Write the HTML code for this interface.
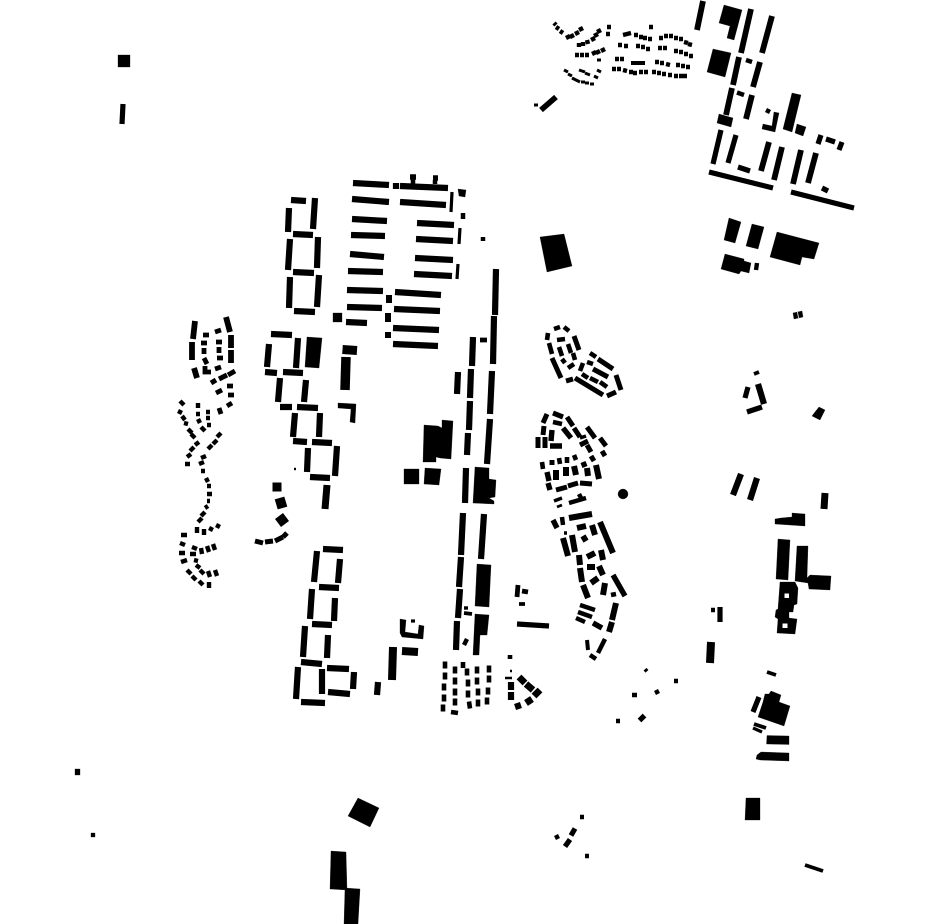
<!DOCTYPE html>
<html><head><meta charset="utf-8"><title>Figure-ground plan</title>
<style>html,body{margin:0;padding:0;background:#fff}svg{display:block}</style></head>
<body>
<svg width="930" height="924" viewBox="0 0 930 924" xmlns="http://www.w3.org/2000/svg">
<rect width="930" height="924" fill="#fff"/>
<g fill="none" stroke="#000">
<!-- top-right bars -->
<path stroke-width="5.8" d="M703 1L697 30M751 9L741 53M772 16L762 53M739 57L733 85M760 62L753 87M732 88L726 115M752 95L746 119M769 142L761 171M782 147L774 180M816 153L808 183M801 150L793 184"/>
<path stroke-width="5.2" d="M721 130L713 164M736 135L728 163M738 167L750 171M709 172L773 188M791 192L854 208M826 139L835 142M842 142L839 150M821 135L818 144M822 188L828 191"/>
<path stroke-width="4.5" d="M746 60L752 62M737 92.5L744 95M766 110L770 112"/>
<!-- village top -->
<path stroke-width="4.4" d="M554 23L556 25M556 27L559 29M560 31L563 33M566 38L570 36M570 37L574 35M575 34L579 32M579 30L583 28M579 43L579 47M583 42L583 46M587 40L588 44M592 37L594 41M595 33L597 37M598 29L600 33M575 55H579M580 55H584M585 55H589M592 54L596 52M596 53L600 51M601 51L605 49M607 27H611M606 34H610M649 27H653M623 35L627 34M627 34L631 33M634 35L638 35M639 37L643 37M643 38L647 38M648 39L652 39M618 45H622M624 46H628M636 46H640M641 47H645M646 49H650M659 38H663M664 36H668M669 36H673M674 38H678M679 39H683M684 42L688 43M688 44L692 45M658 48H662M663 48H667M674 51L678 51M679 52L683 52M684 54L688 54M689 56L693 56M615 59H619M620 59H624M655 62L659 62M660 63L664 63M666 64L670 65M676 65L680 65M681 66L685 66M686 67L690 67M612 69H616M617 69H621M623 70L627 71M629 72L633 72M633 73L637 73M639 72H643M644 72H648M652 72L656 72M657 73L661 73M662 74L666 74M668 75L672 75M674 76H678M679 76H683M683 76H687"/>
<path stroke-width="3" d="M597 60H601M564 70L568 72M568 74L572 76M572 78L576 80M576 80L580 82M581 82H585M585 83H589M590 84H594M579 70L585 72M585 73L590 75M597 70L601 72M594 76L598 78M534 105H538"/>
<path stroke-width="4" d="M631 63H645"/>
<path stroke-width="5.6" d="M556 97L541 110"/>
<!-- upper slabs -->
<path stroke-width="6.2" d="M353 183L389 185M352 199L389 202M352 219L387 221M351 235L385 236M350 254L384 257M348 271L383 272M347 290L383 291M347 307L382 308M346 322L367 323M400 186L448 188M400 202L446 205M417 223L454 225M416 239L453 241M415 258L453 260M414 274L452 276M395 292L441 295M394 309L440 311M393 328L439 330M393 344L438 346M396 183L396 189"/>
<path stroke-width="3.2" d="M452 192L451 212M460 228L459 244M458 264L457 279"/>
<path stroke-width="4.5" d="M463 213V219M483 237V241M413 179V184M435 180V184"/>
<path stroke-width="6" d="M389 295V303M388 313V322M388 332V338"/>
<path stroke-width="5.5" d="M410 177H416M433 178H438"/>
<path stroke-width="6.2" d="M291 200L306 201M289 208L288 232M315 198L313 229M293 234L313 235M290 239L288 270M318 237L317 268M293 272L314 273M290 277L289 308M319 275L317 307M294 311L315 312M496 269L495 315"/>
<!-- middle-left rings -->
<path stroke-width="5.8" d="M195 321L193 339M192 342V360M226 317L230 332M231 335V348M231 350V363M194 368L197 378"/>
<path stroke-width="6.2" d="M271 334L292 335M269 344L267 367M298 338L296 368M265 372L277 373M283 372L303 373M280 378L278 402M306 380L304 402M280 407L292 407M297 407L318 408M295 413L293 437M320 413L319 437M293 441L307 442M312 442L332 443M308 448L307 472M337 446L335 476M310 477L330 478"/>
<path stroke-width="7" d="M327 485L325 509"/>
<path stroke-width="9" d="M342.5 349.5L357 350.5"/>
<path stroke-width="9.5" d="M346 357L345 390"/>
<path stroke-width="9" d="M277 482.5V491.5"/>
<path stroke-width="10" d="M279.5 498L282.5 508M279 516L285 524"/>
<path stroke-width="5" d="M255 541L263 543M265 542L273 541M275 541L283 537M283 537L287 533M228 375L235 371M219 379L227 375M211 383L216 380"/>
<path stroke-width="4.8" d="M203 335H209M215 332L221 330M201 343H207M216 342H222M204 348V354M219 347V353M204 358L207 364M217 358H223M205 366V372H211M215 369L221 367M227 386H233M228 395H234M216 393L222 390M227 406L232 403M219 408L221 414"/>
<path stroke-width="4.4" d="M180 401L184 405M178 411L182 413M182 416L185 420M184 423L188 424M188 429L192 433M191 434L195 438M195 445L199 442M190 451L194 447M187 457L191 454M185 464H190M198 403V408M196 414H200M197 422L201 420M206 412H210M206 418H210M207 425H211M201 427L205 431M217 437L221 433M213 444L217 440M208 449L212 445M201 458L206 456M199 464L204 462M201 471H205M206 478L208 482M207 486H211M207 494H212M207 501H210M205 508L208 506M201 516L205 512M198 522L202 518M197 527V533M204 529V535M210 531L212 527M217 528L219 524M181 535H187M180 543L185 545M179 553H185M181 562L187 560M187 570L191 574M192 576L196 580M199 581L203 585M209 582V588M192 547L197 549M190 554H196M194 560L198 561M196 565L200 568M200 570L204 574M208 571L210 577M215 570L217 576M201 548L202 554M207 546L209 552M213 544L215 550"/>
<path stroke-width="2.4" d="M294 469H296"/>
<!-- lower ring blocks -->
<path stroke-width="6.2" d="M323 549L343 550M317 551L314 582M340 559L338 583M319 587L339 588M312 589L310 619M335 598L334 621M312 624L332 625M305 626L303 657M328 635L327 658M301 662L322 664M298 667L296 699M322 669V694M327 668L349 669M354 672L353 689M328 692L350 694M301 702L325 703M378 682L377 695"/>
<path stroke-width="8" d="M393 647L392 680M402 651L418 652M711 642L710 663"/>
<path stroke-width="3.2" d="M411 621H415"/>
<!-- central long bars -->
<path stroke-width="6.2" d="M473 337L472 366M494 316L493 364M458 372L457 394M471 369L470 398M492 371L490 414M470 401L469 430M490 419L487 464M468 433L467 455M466 468L465 503M463 513L461 555M484 514L481 559M461 557L459 587M460 589L458 618M457 621L456 650"/>
<path stroke-width="4.8" d="M480 340H487M518 585L517 597M522 591L528 592"/>
<path stroke-width="3.8" d="M464 613L472 614M519 604H525"/>
<path stroke-width="3.4" d="M464 608H468"/>
<path stroke-width="4.4" d="M467 639L464 645"/>
<path stroke-width="5.2" d="M517 624L549 626"/>
<!-- grid -->
<path stroke-width="4.6" d="M445 661.5V668.5M445 672.5V679.5M444 683.5V690.5M444 694.5V701.5M443 704.5V711.5M451 712L458 713M455 666.5V673.5M455 677.5V684.5M455 688.5V695.5M455 698.5V705.5M463 662V668M467 668.5V675.5M468 679.5V686.5M468 690.5V697.5M469 701.5L470 708.5M477 666.5V673.5M477 677.5V684.5M478 688.5V695.5M478 699.5V706.5M489 665.5V672.5M489 675.5V682.5M488 687.5V694.5M487 697.5V704.5M510 655V659"/>
<path stroke-width="2.4" d="M510 671H512M505 678H512"/>
<path stroke-width="6.2" d="M511 682V690M511 692V700M517 703L519 709"/>
<path stroke-width="6.8" d="M526 703L532 699M534 696L540 690M526 684L533 690M519 677L525 683"/>
<!-- east cluster loop -->
<path stroke-width="4.6" d="M554 329L560 327M564 327L569 331M548 333L547 340M549 343L552 354M557 340L565 339M559 347L562 356M568 344L571 353M562 359L565 363M568 368L574 364M573 353L575 360M580 371L583 363M587 362L593 364M590 353L596 357M582 374L588 378M590 378L598 382M600 382L607 387M553 422L562 424M542 462L543 469M559 458L560 464M567 457V463M574 455L576 460"/>
<path stroke-width="5" d="M574 336L579 350M552 358L561 378M566 381L573 379M575 378L603 395M607 396L616 392M621 390L616 375M598 359L613 369M593 369L608 377M547 414L543 423M553 413L563 417M567 417L573 426M544 426L543 435M538 437V448M545 437V448M574 428L580 437M580 445L588 441M587 427L595 438M600 438L606 446M587 445L591 452M602 451L605 456M591 456L594 461M552 460V465M556 490L567 487M568 486L578 483M580 483L592 484"/>
<path stroke-width="5.4" d="M552 430L551 441M550 446L562 446M563 428L571 438M583 462L585 467M547 472L549 481M548 483L550 490M553 520L557 528M593 623L602 628M613 575L625 596"/>
<path stroke-width="3.4" d="M580 438L586 436M554 501L562 498M564 533H567"/>
<path stroke-width="2.8" d="M557 507L562 505"/>
<path stroke-width="4.5" d="M569 503L586 498M578 497L582 495M562 517L563 525M611 595L616 594M580 605L595 610M578 612L592 617M576 618L585 622M605 639L598 653M590 655L596 659"/>
<path stroke-width="4" d="M587 640L588 650"/>
<path stroke-width="6" d="M556 470V480M566 467V476M574 466L576 475M587 468L588 476M596 465L599 479M569 518L592 514M577 528L586 526M592 525L595 535M600 522L613 553M563 538L568 556M572 535L575 552M582 540L587 537M587 557L595 553M601 550L603 560M579 555L580 565M580 568L582 582M587 567H595M599 566L603 575M591 583L598 578M583 585L588 598M605 583L603 595M616 603L612 620M612 622L609 632"/>
<!-- east -->
<path stroke-width="6.2" d="M741 474L733 495M757 478L750 500"/>
<path stroke-width="7" d="M825 493L824 509"/>
<path stroke-width="5.2" d="M720 607V622M759 697L753 712M748 387L745 398M747 412L762 407"/>
<path stroke-width="3.8" d="M767 672L776 675M754 724L766 728M754 374L759 372M805 865L823 871"/>
<path stroke-width="3.2" d="M753 728L762 732"/>
<path stroke-width="4.4" d="M711 610H715M757 263L756 270"/>
<path stroke-width="6.2" d="M758 384L764 404"/>
<!-- misc small -->
<path stroke-width="5.2" d="M123 104L122 124"/>
<path stroke-width="2.8" d="M644.5 671.5L647.5 669"/>
<path stroke-width="4.4" d="M674 681H678M632 695H637M655 693L659 691M616 721H620M580 817H584M555 838L559 836M585 856H589"/>
<path stroke-width="5.2" d="M639.5 720.5L644.5 715.5M571 835.5L575 828.5M565 846.5L570 839.5"/>
</g>
<g fill="#000" stroke="#000" stroke-width="0.3">
<polygon points="724,5 742,10 734,40 727,38 730,26 719,23"/>
<polygon points="713,49 731,53 725,77 707,72"/>
<polygon points="719,114 733,118 731,127 717,123"/>
<polygon points="774,112 779,113 775,132 762,129 763,124 772,126"/>
<polygon points="792,93 801,95 792,132 783,129"/>
<polygon points="797,124 806,127 803,136 795,133"/>
<polygon points="458,189 466,190 465,197 459,196"/>
<rect x="333" y="313" width="9" height="9"/>
<polygon points="540,237 564,234 572,266 547,272"/>
<polygon points="307,337 322,338 319,368 305,367"/>
<polygon points="338,403 356,404 355,423 350,422 351,409 338,408"/>
<polygon points="400,619 406,620 405,632 418,634 419,625 424,626 423,639 402,637 400,633"/>
<polygon points="424,425 438,426 442,428 442,420 453,421 451,459 440,458 436,457 436,462 423,462"/>
<polygon points="404,469 419,469 419,484 404,484"/>
<polygon points="425,468 441,469 439,485 424,484"/>
<polygon points="475,467 489,468 489,479 496,480 495,497 489,498 494,501 494,504 473,503"/>
<polygon points="477,564 491,565 489,607 475,606"/>
<polygon points="475,614 489,615 487,635 480,635 479,655 473,655"/>
<circle cx="623" cy="494" r="5"/>
<polygon points="775,519 781,518 792,517 792,513 805,514 805,526 775,524"/>
<polygon points="778,539 790,540 788,580 776,579"/>
<polygon points="797,546 808,546 807,578 810,575 831,576 830,590 809,589 808,583 795,581"/>
<polygon points="780,582 795,582 798,588 797,604 794,605 793,612 789,612 789,618 797,619 795,634 777,633 778,619 775,617 776,610 778,609"/>
<polygon points="771,691 781,695 779,702 790,706 784,726 758,717 763,702 765,694 769,694"/>
<polygon points="767,735.5 789,736 789,744.5 766.5,744"/>
<polygon points="761,752 789,753 789,761 760,760 756,759 757,755"/>
<polygon points="729,218 741,222 735,243 724,240"/>
<polygon points="752,224 764,227 758,249 746,246"/>
<polygon points="777,232 819,243 814,259 802,257 800,265 770,257"/>
<polygon points="725,254 744,259 744,261 751,263 749,273 741,271 739,274 721,269"/>
<polygon points="793,313 802,311 803,317 794,319"/>
<polygon points="819,407 825,410 820,420 812,416 815,412"/>
<rect x="118" y="55" width="12" height="12"/>
<rect x="75" y="769" width="5" height="6"/>
<rect x="91" y="833" width="4" height="4"/>
<polygon points="358,798 379,808 370,827 348,816"/>
<polygon points="331,851 346,852 347,890 330,889"/>
<polygon points="345,888 360,889 358,924 344,924"/>
<polygon points="746,798 760,798 760,820 745,820"/>
</g>
<rect x="784.5" y="593.5" width="4.5" height="4.5" fill="#fff"/>
<rect x="782.5" y="623.5" width="5" height="4.5" fill="#fff"/>
<path d="M797.5 312L798.5 318" stroke="#fff" stroke-width="0.8" fill="none"/>
</svg>
</body></html>
